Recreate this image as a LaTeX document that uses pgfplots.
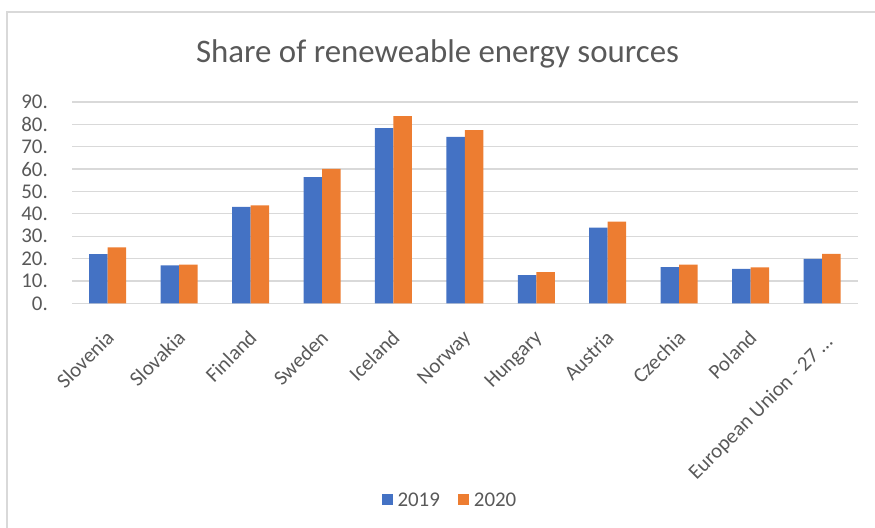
\documentclass[border=0pt]{standalone}
\usepackage{pgfplots}
\pgfplotsset{compat=1.18}
\usepackage{fontspec}
\setmainfont{Carlito}
\definecolor{c2019}{RGB}{68,114,196}
\definecolor{c2020}{RGB}{237,125,49}
\definecolor{gridgrey}{RGB}{217,217,217}
\definecolor{txtgrey}{RGB}{89,89,89}
\begin{document}
\begin{tikzpicture}[x=1bp,y=1bp]
\useasboundingbox (0,0) rectangle (875,528);
\draw[gridgrey, line width=1.3bp] (7,0) -- (7,516) -- (875,516);
\node[txtgrey, font=\fontsize{33}{38}\selectfont, anchor=base] at (437.5,465) {Share of reneweable energy sources};
\begin{axis}[
  at={(72bp,224.7bp)}, anchor=south west,
  scale only axis, width=785.7bp, height=201.3bp,
  xmin=-0.5, xmax=10.5, ymin=0, ymax=90,
  ybar=0pt, bar width=18.5bp,
  axis line style={draw=none},
  major tick length=0pt,
  ymajorgrids, grid style={gridgrey, line width=1.3bp},
  ytick={0,10,...,90},
  yticklabels={0.,10.,20.,30.,40.,50.,60.,70.,80.,90.},
  yticklabel style={font=\fontsize{21}{23}\selectfont, text=txtgrey, anchor=east, inner sep=0pt, xshift=-24bp},
  xtick={0,...,10},
  xticklabels={Slovenia,Slovakia,Finland,Sweden,Iceland,Norway,Hungary,Austria,Czechia,Poland,{\raisebox{-6bp}[\height][\depth]{European Union - 27 …}\hspace{-12bp}}},
  xticklabel style={font=\fontsize{21}{23}\selectfont, text=txtgrey, rotate=45, anchor=north east, inner sep=0pt, xshift=-20bp, yshift=-16bp},
  legend style={at={(0.481,-0.977)}, anchor=center, draw=none, fill=none, legend columns=2,
    font=\fontsize{21}{23}\selectfont, text=txtgrey,
    /tikz/every odd column/.append style={column sep=3bp},
    /tikz/every even column/.append style={column sep=16bp}},
  legend image code/.code={\fill[#1] (0bp,-5.5bp) rectangle (11bp,5.5bp);},
]
\addplot[fill=c2019, draw=none] coordinates {(0,22.0) (1,16.9) (2,43.1) (3,56.4) (4,78.3) (5,74.4) (6,12.6) (7,33.8) (8,16.2) (9,15.4) (10,19.9)};
\addplot[fill=c2020, draw=none] coordinates {(0,25.0) (1,17.3) (2,43.8) (3,60.1) (4,83.7) (5,77.4) (6,13.9) (7,36.5) (8,17.3) (9,16.1) (10,22.1)};
\legend{2019,2020}
\end{axis}
\end{tikzpicture}
\end{document}
